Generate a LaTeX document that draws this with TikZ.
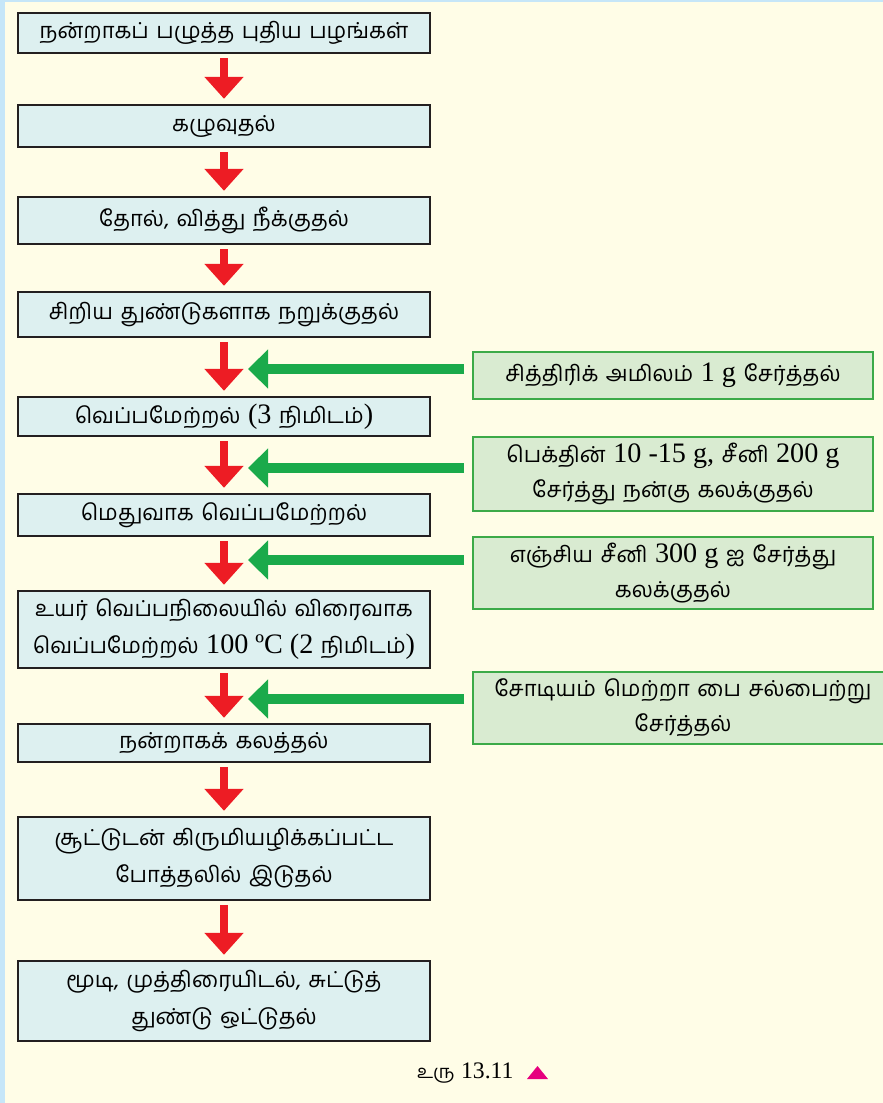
\documentclass[tikz,border=0pt]{standalone}
\usepackage{fontspec}
\newfontfamily\tam[Script=Tamil,WordSpace=1.4]{Hind Madurai}
\newfontfamily\lat[Scale=1.28]{Liberation Serif}
\usetikzlibrary{arrows.meta,calc}
\definecolor{bgcol}{RGB}{255,253,231}
\definecolor{stripcol}{RGB}{198,230,248}
\definecolor{boxfill}{RGB}{221,240,240}
\definecolor{boxline}{RGB}{35,31,32}
\definecolor{gfill}{RGB}{217,235,209}
\definecolor{gline}{RGB}{60,170,72}
\definecolor{redarr}{RGB}{237,28,36}
\definecolor{grnarr}{RGB}{26,170,75}
\definecolor{pinkcol}{RGB}{230,0,126}
\tikzset{
  bluebox/.style={draw=boxline, line width=2.4pt, fill=boxfill, minimum width=412pt,
    align=center, inner sep=0pt, font=\tam\fontsize{22}{37}\selectfont},
  greenbox/.style={draw=gline, line width=2pt, fill=gfill, minimum width=400pt,
    align=center, inner sep=0pt, font=\tam\fontsize{22}{35}\selectfont},
  redflow/.style={draw=redarr, line width=8pt, -{Triangle[width=38pt,length=22pt]}},
  grnflow/.style={draw=grnarr, line width=10pt, -{Triangle[width=38pt,length=20pt]}},
}
\begin{document}
\begin{tikzpicture}[x=1pt,y=-1pt]
\clip (0,0) rectangle (883,1103);
\fill[bgcol] (0,0) rectangle (883,1103);
\fill[stripcol] (0,0) rectangle (5,1103);
\fill[stripcol] (0,0) rectangle (883,1.5);

\node[bluebox, minimum height=40pt] (b1) at (224,33) {நன்றாகப் பழுத்த புதிய பழங்கள்};
\node[bluebox, minimum height=42pt] (b2) at (224,126) {கழுவுதல்};
\node[bluebox, minimum height=47pt] (b3) at (224,220.5) {தோல், வித்து நீக்குதல்};
\node[bluebox, minimum height=45pt] (b4) at (224,314.5) {சிறிய துண்டுகளாக நறுக்குதல்};
\node[bluebox, minimum height=39pt] (b5) at (224,416.5) {வெப்பமேற்றல் {\lat (3} நிமிடம்{\lat )}};
\node[bluebox, minimum height=42pt] (b6) at (224,515) {மெதுவாக வெப்பமேற்றல்};
\node[bluebox, minimum height=77pt] (b7) at (224,629.5) {உயர் வெப்பநிலையில் விரைவாக\\வெப்பமேற்றல் {\lat 100 ºC (2} நிமிடம்{\lat )}};
\node[bluebox, minimum height=38pt] (b8) at (224,743) {நன்றாகக் கலத்தல்};
\node[bluebox, minimum height=83pt] (b9) at (224,858.5) {சூட்டுடன் கிருமியழிக்கப்பட்ட\\போத்தலில் இடுதல்};
\node[bluebox, minimum height=80pt] (b10) at (224,1001) {மூடி, முத்திரையிடல், சுட்டுத்\\துண்டு ஒட்டுதல்};

\node[greenbox, minimum height=47pt] (g1) at (673,375.5) {சித்திரிக் அமிலம் {\lat 1 g} சேர்த்தல்};
\node[greenbox, minimum height=74pt] (g2) at (673,474) {பெக்தின் {\lat 10 -15 g,} சீனி {\lat 200 g}\\சேர்த்து நன்கு கலக்குதல்};
\node[greenbox, minimum height=72pt] (g3) at (673,573) {எஞ்சிய சீனி {\lat 300 g} ஐ சேர்த்து\\கலக்குதல்};
\node[greenbox, minimum width=420pt, minimum height=72pt] (g4) at (683,708) {சோடியம் மெற்றா பை சல்பைற்று\\சேர்த்தல்};

\foreach \a/\b in {b1/b2,b2/b3,b3/b4,b4/b5,b5/b6,b6/b7,b7/b8,b8/b9,b9/b10}
  \draw[redflow] ([yshift=-4pt]\a.south) -- ([yshift=5pt]\b.north);

\coordinate (t1) at (248,369);
\coordinate (t2) at (248,468);
\coordinate (t3) at (248,560);
\coordinate (t4) at (248,699);
\foreach \g/\t in {g1/t1,g2/t2,g3/t3,g4/t4}
  \draw[grnflow] ($(\g.west|-\t)+(-8,0)$) -- (\t);

\node[font=\tam\fontsize{18.5}{20}\selectfont, anchor=east] (cap) at (517,1073) {உரு {\lat 13.11}};
\fill[pinkcol] (527,1079) -- (548,1079) -- (537.5,1066) -- cycle;
\end{tikzpicture}
\end{document}
